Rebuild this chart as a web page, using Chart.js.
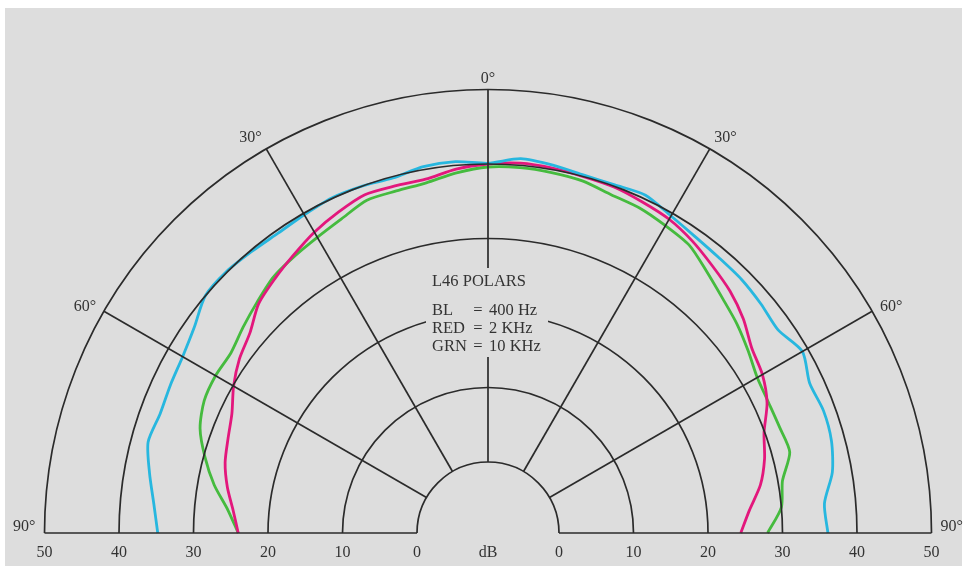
<!DOCTYPE html>
<html>
<head>
<meta charset="utf-8">
<script src="https://cdn.jsdelivr.net/npm/chart.js@4.4.1/dist/chart.umd.min.js"></script>
<style>
  html, body { margin: 0; padding: 0; background: #ffffff; }
  #wrap { width: 971px; height: 566px; position: relative; }
</style>
</head>
<body>
<div id="wrap"><canvas id="c" width="971" height="566"></canvas></div>
<script>
// ---- DATA ----
// angle in degrees off axis (negative = left side), level in dB
const angles = [-90,-85,-80,-75,-70,-65,-60,-55,-50,-45,-40,-35,-30,-25,-20,-15,-10,-5,0,5,10,15,20,25,30,35,40,45,50,55,60,65,70,75,80,85,90];
const blueDb  = [34.8,35.5,36.6,37.7,37.3,37.5,37.8,38.6,40.0,40.1,39.8,39.6,39.8,40.1,40.0,39.8,40.4,40.5,40.1,40.9,40.6,40.2,40.2,40.5,39.6,39.0,38.7,38.6,38.3,38.0,39.2,38.1,38.4,38.2,37.4,35.8,36.1];
const redDb   = [24.0,24.8,26.0,27.0,27.6,28.4,29.9,31.2,32.2,34.0,35.0,36.0,37.1,38.0,38.8,38.7,38.7,39.5,40.0,40.3,40.2,40.0,39.9,39.5,39.1,38.3,37.3,36.4,35.2,33.7,33.0,31.8,29.9,28.9,27.6,25.7,24.4];
const greenDb = [24.0,25.5,27.8,29.8,31.6,32.5,32.7,32.6,33.4,34.3,35.3,35.8,36.3,37.0,38.0,38.0,38.2,39.0,39.6,39.7,39.6,39.4,38.8,38.6,38.1,37.6,36.2,35.0,34.1,33.1,32.2,32.0,32.1,32.4,30.6,30.0,28.0];

const ringValues = [0, 10, 20, 30, 40, 50];
const ringLabels = ['0', '10', '20', '30', '40', '50'];
const spokeAngles = [-60, -30, 0, 30, 60];
const angleLabelValues = [-90, -60, -30, 0, 30, 60, 90];
const angleLabels = ['90°', '60°', '30°', '0°', '30°', '60°', '90°'];
const unitLabel = 'dB';
const titleText = 'L46 POLARS';
const legendKeys = ['BL', 'RED', 'GRN'];
const legendValues = ['400 Hz', '2 KHz', '10 KHz'];

// ---- LAYOUT ----
const W = 971, H = 566;
const CX = 488, CY = 533;          // pixel position of the pole
const PX_PER_DB = 7.45;            // radial pixels per dB
const OFFSET_DB = 71 / PX_PER_DB;  // the 0 dB ring sits this far from the pole
const BG = '#dddddd';
const GRID = '#2b2b2b';
const TEXT = '#333333';
const FONT = '"Liberation Serif", "DejaVu Serif", serif';

function toXY(angleDeg, db) {
  const r = db + OFFSET_DB;
  const a = angleDeg * Math.PI / 180;
  return { x: r * Math.sin(a), y: r * Math.cos(a) };
}
function series(values) {
  return angles.map((a, i) => toXY(a, values[i]));
}

const polarGrid = {
  id: 'polarGrid',
  beforeDraw(chart) {
    const ctx = chart.ctx;
    ctx.save();
    ctx.fillStyle = '#ffffff';
    ctx.fillRect(0, 0, chart.width, chart.height);
    ctx.fillStyle = BG;
    ctx.fillRect(5, 8, chart.width - 14, chart.height - 8);
    ctx.restore();
  },
  afterDatasetsDraw(chart) {
    const ctx = chart.ctx;
    const xs = chart.scales.x, ys = chart.scales.y;
    const cx = xs.getPixelForValue(0), cy = ys.getPixelForValue(0);
    const rp = db => xs.getPixelForValue(db + OFFSET_DB) - cx;
    const r0 = rp(ringValues[0]), rMax = rp(ringValues[ringValues.length - 1]);
    ctx.save();
    ctx.strokeStyle = GRID;
    ctx.lineWidth = 1.7;
    // rings
    ringValues.forEach(v => {
      ctx.beginPath();
      ctx.arc(cx, cy, rp(v), Math.PI, 2 * Math.PI);
      ctx.stroke();
    });
    // spokes
    spokeAngles.forEach(a => {
      const t = a * Math.PI / 180;
      ctx.beginPath();
      ctx.moveTo(cx + r0 * Math.sin(t), cy - r0 * Math.cos(t));
      ctx.lineTo(cx + rMax * Math.sin(t), cy - rMax * Math.cos(t));
      ctx.stroke();
    });
    // baseline
    ctx.beginPath();
    ctx.moveTo(cx - rMax, cy); ctx.lineTo(cx - r0, cy);
    ctx.moveTo(cx + r0, cy); ctx.lineTo(cx + rMax, cy);
    ctx.stroke();

    // knockout for the text block
    ctx.fillStyle = BG;
    ctx.fillRect(cx - 62, 268, 122, 89);

    // ring labels
    ctx.fillStyle = TEXT;
    ctx.font = '16px ' + FONT;
    ctx.textAlign = 'center';
    ctx.textBaseline = 'middle';
    ringValues.forEach((v, i) => {
      ctx.fillText(ringLabels[i], cx - rp(v), cy + 20);
      ctx.fillText(ringLabels[i], cx + rp(v), cy + 20);
    });
    ctx.fillText(unitLabel, cx, cy + 20);

    // angle labels
    angleLabelValues.forEach((a, i) => {
      const t = a * Math.PI / 180;
      let x, y;
      if (a === 0) {
        ctx.textAlign = 'center';
        x = cx; y = cy - rMax - 11;
      } else {
        const rr = rMax + 9;
        x = cx + rr * Math.sin(t);
        y = cy - rr * Math.cos(t);
        ctx.textAlign = a < 0 ? 'right' : 'left';
        if (Math.abs(a) === 90) y -= 6;
        if (Math.abs(a) === 30) y -= 3;
      }
      ctx.fillText(angleLabels[i], x, y);
    });

    // title and key
    ctx.font = '16.5px ' + FONT;
    ctx.textAlign = 'left';
    ctx.fillText(titleText, cx - 56, 282);
    const rowsY = [311, 329, 347];
    legendKeys.forEach((k, i) => {
      ctx.textAlign = 'left';
      ctx.fillText(k, cx - 56, rowsY[i]);
      ctx.textAlign = 'center';
      ctx.fillText('=', cx - 10, rowsY[i]);
      ctx.textAlign = 'left';
      ctx.fillText(legendValues[i], cx + 1, rowsY[i]);
    });
    ctx.restore();
  }
};

const common = { showLine: true, fill: false, pointRadius: 0, borderWidth: 2.8, tension: 0.25 };

new Chart(document.getElementById('c'), {
  type: 'scatter',
  data: {
    datasets: [
      Object.assign({ label: 'BL 400 Hz', data: series(blueDb), borderColor: '#27b7df', order: 1 }, common),
      Object.assign({ label: 'RED 2 KHz', data: series(redDb), borderColor: '#e3177c', order: 2 }, common),
      Object.assign({ label: 'GRN 10 KHz', data: series(greenDb), borderColor: '#45bb3e', order: 3 }, common)
    ]
  },
  options: {
    responsive: false,
    animation: false,
    layout: { padding: 0 },
    plugins: { legend: { display: false }, tooltip: { enabled: false } },
    scales: {
      x: { type: 'linear', display: false, min: -CX / PX_PER_DB, max: (W - CX) / PX_PER_DB },
      y: { type: 'linear', display: false, min: -(H - CY) / PX_PER_DB, max: CY / PX_PER_DB }
    }
  },
  plugins: [polarGrid]
});
</script>
</body>
</html>
